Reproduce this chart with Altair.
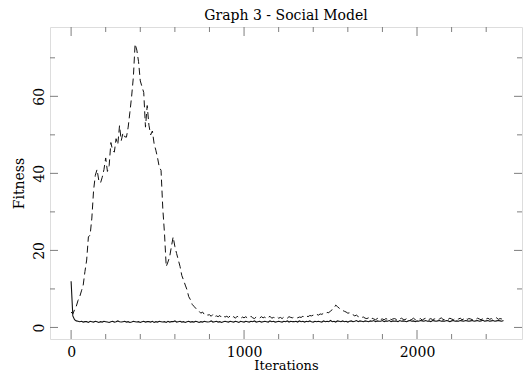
import altair as alt
import pandas as pd

# Solid series (step 10 iterations)
solid = [12.0, 3.0, 2.0,
 1.7,1.6,1.5,1.6,1.4,1.5,1.5,1.3,1.6,1.5,
 1.4,1.6,1.5,1.3,1.5,1.4,1.6,1.5,1.4,1.3,
 1.5,1.6,1.4,1.5,1.7,1.5,1.4,1.5,1.6,1.4,
 1.5,1.3,1.4,1.6,1.5,1.4,1.5,1.3,1.5,1.6,
 1.4,1.5,1.5,1.4,1.6,1.3,1.5,1.4,1.6,1.5,
 1.4,1.5,1.3,1.6,1.4,1.5,1.5,1.7,1.4,1.5,
 1.6,1.4,1.5,1.3,1.5,1.6,1.4,1.5,1.4,1.6,
 1.5,1.3,1.5,1.4,1.6,1.5,1.4,1.5,1.7,1.4,
 1.5,1.6,1.4,1.5,1.3,1.5,1.6,1.5,1.4,1.6,
 1.5,1.4,1.6,1.5,1.3,1.6,1.5,1.4,1.6,1.5,
 1.4,1.6,1.5,1.7,1.4,1.5,1.6,1.4,1.5,1.6,
 1.5,1.4,1.7,1.5,1.6,1.4,1.5,1.6,1.5,1.4,
 1.6,1.5,1.7,1.4,1.6,1.5,1.5,1.6,1.4,1.7,
 1.5,1.6,1.4,1.6,1.5,1.7,1.5,1.4,1.6,1.5,
 1.6,1.5,1.4,1.7,1.5,1.6,1.5,1.8,1.5,1.6,
 1.4,1.7,1.6,1.5,1.7,1.5,1.6,1.4,1.6,1.7,
 1.5,1.6,1.8,1.5,1.7,1.6,1.5,1.7,1.6,1.5,
 1.7,1.6,1.8,1.5,1.7,1.6,1.6,1.8,1.5,1.7,
 1.6,1.8,1.5,1.7,1.6,1.7,1.5,1.8,1.6,1.7,
 1.6,1.5,1.7,1.8,1.6,1.7,1.5,1.7,1.6,1.8,
 1.7,1.6,1.8,1.6,1.7,1.5,1.8,1.7,1.6,1.7,
 1.8,1.6,1.7,1.6,1.8,1.7,1.5,1.7,1.8,1.6,
 1.7,1.6,1.8,1.7,1.6,1.8,1.7,1.6,1.7,1.8,
 1.6,1.7,1.8,1.6,1.7,1.9,1.6,1.7,1.8,1.6,
 1.7,1.8,1.6,1.7,1.8,1.7,1.6,1.8]

# Dashed series (step 10 iterations)
dashed = [4.0,
 3.5,4.6,5.5,7.0,8.0,9.5,11.0,14.5,17.5,23.5,
 24.0,28.4,35.6,39.5,41.0,38.2,37.5,39.0,41.0,44.0,
 40.5,42.0,48.0,46.0,45.5,49.0,47.5,52.4,48.5,50.5,
 49.5,49.4,52.0,55.9,60.0,65.0,73.6,72.0,69.0,64.0,
 62.5,61.0,52.0,57.6,52.5,50.0,51.0,47.7,46.0,44.0,
 41.6,40.8,31.0,24.4,15.8,17.0,18.4,21.0,23.5,21.0,
 19.2,17.5,15.8,13.5,12.3,11.0,9.8,8.0,7.2,6.0,
 5.5,5.0,4.5,4.2,3.7,4.0,3.4,3.6,3.2,3.3,
 2.9,3.4,2.8,3.0,2.8,3.1,2.6,3.0,2.7,2.9,
 2.6,3.0,2.5,2.8,2.4,2.9,2.6,2.3,2.7,2.5,
 2.8,2.4,2.6,2.9,2.5,2.3,2.7,2.6,2.4,2.8,
 2.5,2.7,2.3,2.6,2.9,2.4,2.6,2.5,2.8,2.4,
 2.6,2.3,2.7,2.5,2.4,2.8,2.6,2.5,2.7,2.6,
 2.5,2.7,2.6,2.9,2.7,3.0,2.8,3.1,3.0,3.2,
 3.1,3.4,3.2,3.5,3.4,3.7,3.6,3.9,3.8,4.3,
 4.6,5.0,5.8,5.4,5.0,4.7,4.4,4.2,4.0,3.7,
 3.8,3.4,3.3,3.0,3.2,2.8,2.9,2.6,2.7,2.4,
 2.3,2.5,2.1,2.4,2.2,2.0,2.3,2.6,2.1,2.2,
 2.0,2.3,2.1,2.4,2.0,2.2,2.3,2.1,1.9,2.2,
 2.4,2.1,2.0,2.3,2.2,1.9,2.1,2.4,2.0,2.2,
 2.1,2.3,1.9,2.2,2.4,2.0,2.1,2.3,2.0,2.2,
 2.3,2.0,2.2,2.5,2.1,2.0,2.3,2.1,2.4,2.2,
 2.0,2.3,2.1,2.2,2.4,2.0,2.2,2.6,2.1,2.3,
 2.2,2.0,2.3,2.1,2.4,2.2,2.0,2.3,2.1,2.2,
 2.4,2.1,2.3,2.0,2.2,2.5,2.1,2.3,2.2,2.1]

step = 10
x_major = [0, 1000, 2000]
x_minor = [200, 400, 600, 800, 1200, 1400, 1600, 1800, 2200, 2400]
y_major = [0, 20, 40, 60]
y_minor = [10, 30, 50, 70]
x_domain = [-122, 2607]
y_domain = [-3, 78]

W, H = 472, 312
FONT = "DejaVu Serif"
GRAY = "#7f7f7f"

df_s = pd.DataFrame({"it": [i * step for i in range(len(solid))], "fit": solid})
df_d = pd.DataFrame({"it": [i * step for i in range(len(dashed))], "fit": dashed})

xs = alt.Scale(domain=x_domain, nice=False, zero=False)
ys = alt.Scale(domain=y_domain, nice=False, zero=False)

xaxis = alt.Axis(values=x_major, format="d", ticks=False, domain=False, grid=False,
                 labelFont=FONT, labelFontSize=14, labelColor="black",
                 labelPadding=6, labelBaseline="top",
                 title="Iterations", titleFont=FONT, titleFontSize=13,
                 titleFontWeight="normal", titleColor="black",
                 titleBaseline="alphabetic", titleY=30)
yaxis = alt.Axis(values=y_major, format="d", ticks=False, domain=False, grid=False,
                 labelFont=FONT, labelFontSize=14, labelColor="black",
                 labelAngle=270, labelAlign="center", labelBaseline="alphabetic",
                 labelPadding=7,
                 title="Fitness", titleFont=FONT, titleFontSize=14,
                 titleFontWeight="normal", titleColor="black", titlePadding=6)

line_s = alt.Chart(df_s).mark_line(color="#111111", strokeWidth=1.1).encode(
    x=alt.X("it:Q", scale=xs, axis=xaxis),
    y=alt.Y("fit:Q", scale=ys, axis=yaxis),
)
line_d = alt.Chart(df_d).mark_line(color="#111111", strokeWidth=1, strokeDash=[7, 4]).encode(
    x=alt.X("it:Q", scale=xs),
    y=alt.Y("fit:Q", scale=ys),
)

def xticks(vals, length):
    d = pd.DataFrame({"v": vals})
    bottom = alt.Chart(d).mark_rule(color=GRAY, strokeWidth=1).encode(
        x=alt.X("v:Q", scale=xs), y=alt.value(H), y2=alt.value(H - length))
    top = alt.Chart(d).mark_rule(color=GRAY, strokeWidth=1).encode(
        x=alt.X("v:Q", scale=xs), y=alt.value(0), y2=alt.value(length))
    return [bottom, top]

def yticks(vals, length):
    d = pd.DataFrame({"v": vals})
    left = alt.Chart(d).mark_rule(color=GRAY, strokeWidth=1).encode(
        y=alt.Y("v:Q", scale=ys), x=alt.value(0), x2=alt.value(length))
    right = alt.Chart(d).mark_rule(color=GRAY, strokeWidth=1).encode(
        y=alt.Y("v:Q", scale=ys), x=alt.value(W), x2=alt.value(W - length))
    return [left, right]

layers = [line_s, line_d] + xticks(x_major, 9) + xticks(x_minor, 5) + yticks(y_major, 8) + yticks(y_minor, 5)

chart = alt.layer(*layers).properties(
    width=W, height=H,
    title=alt.TitleParams("Graph 3 - Social Model", font=FONT, fontSize=14,
                          fontWeight="normal", color="black", offset=4,
                          anchor="middle"),
    autosize=alt.AutoSizeParams(type="none"),
    padding={"left": 42, "top": 19, "right": 2, "bottom": 32},
).configure_view(stroke=GRAY, strokeWidth=1).configure(background="white")

chart.save("out.html", embed_options={"renderer": "svg", "actions": False})
